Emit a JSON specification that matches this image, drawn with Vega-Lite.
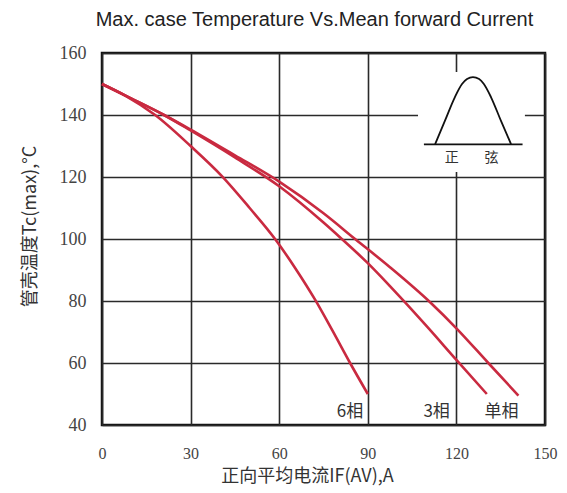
{
  "$schema": "https://vega.github.io/schema/vega-lite/v6.json",
  "width": 443,
  "height": 372,
  "autosize": {"type": "none"},
  "padding": {"left": 102, "top": 53, "right": 22, "bottom": 68},
  "background": "white",
  "title": {
    "text": "Max. case Temperature Vs.Mean forward Current",
    "font": "Liberation Sans",
    "fontSize": 20,
    "fontWeight": "normal",
    "color": "#222",
    "anchor": "middle",
    "offset": 14,
    "dx": -9
  },
  "config": {
    "view": {"stroke": "#111", "strokeWidth": 2.5}
  },
  "datasets": {
    "curves": [
      {"series": "单相", "x": 0, "y": 150},
      {"series": "单相", "x": 10, "y": 145.3},
      {"series": "单相", "x": 21, "y": 140},
      {"series": "单相", "x": 30, "y": 135.3},
      {"series": "单相", "x": 45, "y": 127},
      {"series": "单相", "x": 60, "y": 118.5},
      {"series": "单相", "x": 75, "y": 108.3},
      {"series": "单相", "x": 85.7, "y": 100},
      {"series": "单相", "x": 97.5, "y": 90.9},
      {"series": "单相", "x": 111.1, "y": 79.6},
      {"series": "单相", "x": 120, "y": 71.2},
      {"series": "单相", "x": 130.8, "y": 60},
      {"series": "单相", "x": 141, "y": 49.5},
      {"series": "3相", "x": 0, "y": 150},
      {"series": "3相", "x": 10, "y": 145.3},
      {"series": "3相", "x": 21, "y": 140},
      {"series": "3相", "x": 30, "y": 135},
      {"series": "3相", "x": 45, "y": 126.3},
      {"series": "3相", "x": 60, "y": 117},
      {"series": "3相", "x": 75, "y": 105.3},
      {"series": "3相", "x": 81.2, "y": 100},
      {"series": "3相", "x": 90, "y": 92.2},
      {"series": "3相", "x": 97.5, "y": 84.8},
      {"series": "3相", "x": 102, "y": 80.2},
      {"series": "3相", "x": 110, "y": 71.8},
      {"series": "3相", "x": 120, "y": 61},
      {"series": "3相", "x": 130.3, "y": 50},
      {"series": "6相", "x": 0, "y": 150},
      {"series": "6相", "x": 8, "y": 146.2},
      {"series": "6相", "x": 18, "y": 140},
      {"series": "6相", "x": 30, "y": 130},
      {"series": "6相", "x": 40.6, "y": 120.3},
      {"series": "6相", "x": 50, "y": 110},
      {"series": "6相", "x": 58.6, "y": 100},
      {"series": "6相", "x": 65.5, "y": 90.5},
      {"series": "6相", "x": 72.1, "y": 80.5},
      {"series": "6相", "x": 78, "y": 70.5},
      {"series": "6相", "x": 84, "y": 60},
      {"series": "6相", "x": 90, "y": 50}
    ],
    "box": [{"x": 107, "x2": 143.2, "y": 121.6, "y2": 153.9}],
    "inset": [
      {"part": "base", "x": 109, "y": 130.55},
      {"part": "base", "x": 142.4, "y": 130.55},
      {"part": "hump", "x": 112.8, "y": 130.6},
      {"part": "hump", "x": 116.1, "y": 138.1},
      {"part": "hump", "x": 119.5, "y": 145.8},
      {"part": "hump", "x": 121.9, "y": 150},
      {"part": "hump", "x": 123.6, "y": 151.6},
      {"part": "hump", "x": 125.6, "y": 152.2},
      {"part": "hump", "x": 127.7, "y": 151.6},
      {"part": "hump", "x": 129.3, "y": 150},
      {"part": "hump", "x": 131.7, "y": 145.8},
      {"part": "hump", "x": 135.1, "y": 138.1},
      {"part": "hump", "x": 138.5, "y": 130.6}
    ],
    "insetLabels": [
      {"label": "正", "x": 118.4, "y": 126},
      {"label": "弦", "x": 131.9, "y": 126}
    ],
    "curveLabels": [
      {"label": "6相", "x": 84, "y": 44.3},
      {"label": "3相", "x": 113.3, "y": 44.3},
      {"label": "单相", "x": 135.3, "y": 44.3}
    ]
  },
  "layer": [
    {
      "data": {"name": "box"},
      "mark": {"type": "rect", "fill": "white", "stroke": null},
      "encoding": {
        "x": {
          "field": "x", "type": "quantitative",
          "scale": {"domain": [0, 150], "nice": false, "zero": false},
          "title": "正向平均电流IF(AV),A",
          "axis": {
            "values": [0, 30, 60, 90, 120, 150],
            "grid": true, "gridColor": "#2a2a2a", "gridWidth": 1.6, "gridOpacity": 1,
            "domain": false, "ticks": false,
            "labelFont": "Times New Roman, Liberation Serif, serif", "labelFontSize": 16, "labelColor": "#444",
            "labelPadding": 20, "labelFlush": false, "labelOverlap": false,
            "titleFont": "Noto Sans CJK SC", "titleFontSize": 18, "titleFontWeight": "normal",
            "titleColor": "#333", "titlePadding": 6, "titleX": 205
          }
        },
        "x2": {"field": "x2"},
        "y": {
          "field": "y", "type": "quantitative",
          "scale": {"domain": [40, 160], "nice": false, "zero": false},
          "title": "管壳温度Tc(max),°C",
          "axis": {
            "values": [40, 60, 80, 100, 120, 140, 160],
            "grid": true, "gridColor": "#2a2a2a", "gridWidth": 1.6, "gridOpacity": 1,
            "domain": false, "ticks": false,
            "labelFont": "Times New Roman, Liberation Serif, serif", "labelFontSize": 18, "labelColor": "#444",
            "labelPadding": 16, "labelFlush": false, "labelOverlap": false,
            "titleFont": "Noto Sans CJK SC", "titleFontSize": 18, "titleFontWeight": "normal",
            "titleColor": "#333", "titlePadding": 20, "titleY": 173
          }
        },
        "y2": {"field": "y2"}
      }
    },
    {
      "data": {"name": "curves"},
      "mark": {"type": "line", "interpolate": "monotone", "strokeWidth": 2.6, "color": "#c92a40"},
      "encoding": {
        "x": {"field": "x", "type": "quantitative", "title": "正向平均电流IF(AV),A"},
        "y": {"field": "y", "type": "quantitative", "title": "管壳温度Tc(max),°C"},
        "detail": {"field": "series"}
      }
    },
    {
      "data": {"name": "inset"},
      "mark": {"type": "line", "interpolate": "monotone", "strokeWidth": 1.8, "color": "#111"},
      "encoding": {
        "x": {"field": "x", "type": "quantitative", "title": "正向平均电流IF(AV),A"},
        "y": {"field": "y", "type": "quantitative", "title": "管壳温度Tc(max),°C"},
        "detail": {"field": "part"}
      }
    },
    {
      "data": {"name": "insetLabels"},
      "mark": {"type": "text", "font": "Noto Sans CJK SC", "fontSize": 14, "color": "#333", "baseline": "middle", "align": "center"},
      "encoding": {
        "x": {"field": "x", "type": "quantitative", "title": "正向平均电流IF(AV),A"},
        "y": {"field": "y", "type": "quantitative", "title": "管壳温度Tc(max),°C"},
        "text": {"field": "label"}
      }
    },
    {
      "data": {"name": "curveLabels"},
      "mark": {"type": "text", "font": "Noto Sans CJK SC", "fontSize": 17, "color": "#333", "baseline": "middle", "align": "center"},
      "encoding": {
        "x": {"field": "x", "type": "quantitative", "title": "正向平均电流IF(AV),A"},
        "y": {"field": "y", "type": "quantitative", "title": "管壳温度Tc(max),°C"},
        "text": {"field": "label"}
      }
    }
  ]
}
